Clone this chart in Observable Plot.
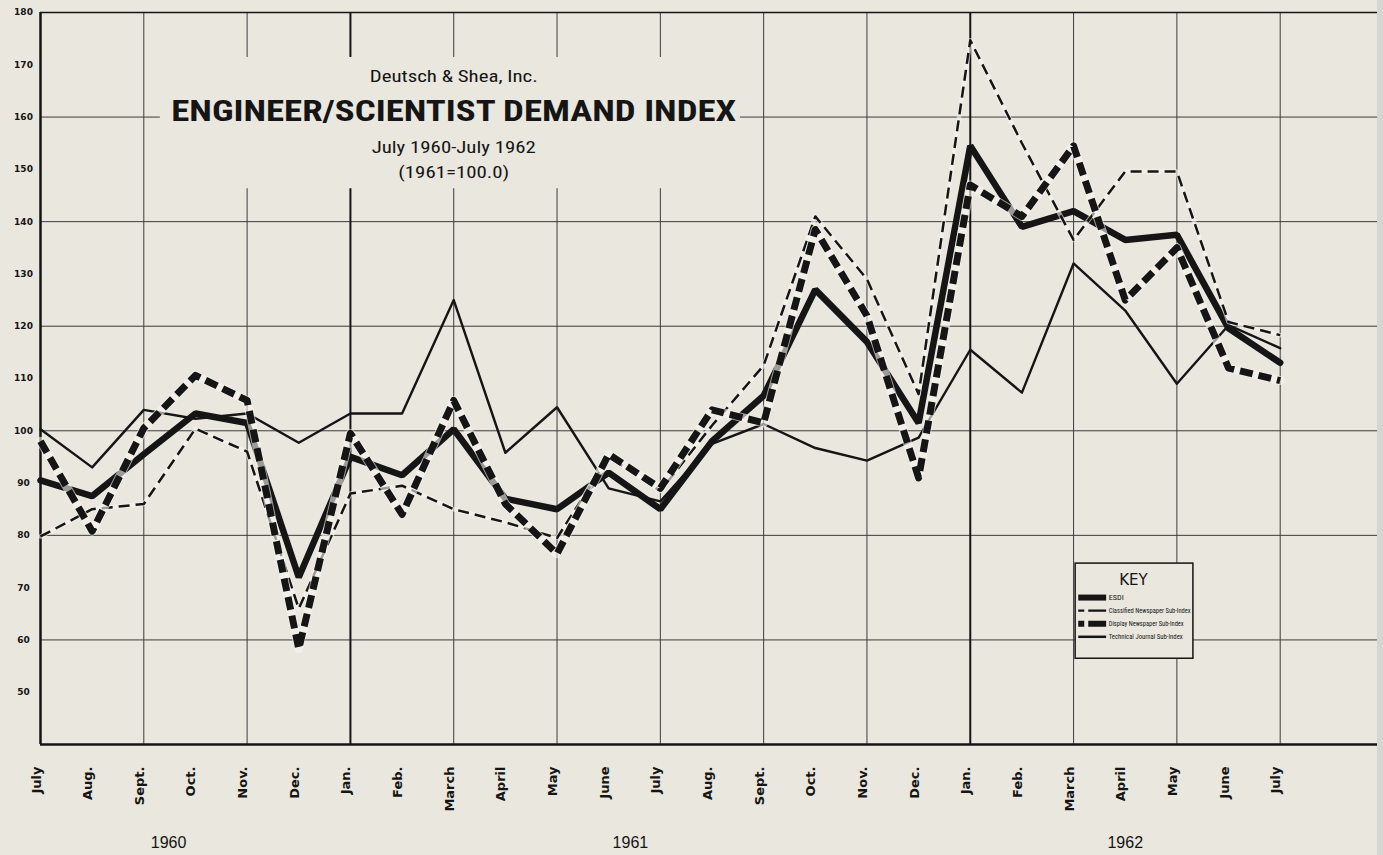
<!DOCTYPE html>
<html><head><meta charset="utf-8">
<script src="https://cdn.jsdelivr.net/npm/d3@7"></script>
<script src="https://cdn.jsdelivr.net/npm/@observablehq/plot@0.6"></script>
<style>
html,body{margin:0;padding:0;background:#e9e7de;}
#chart{position:relative;width:1383px;height:855px;overflow:hidden;}
#edge{position:absolute;right:0;top:0;width:6px;height:855px;background:#d5d5d1;}
</style></head><body><div id="chart"><div id="edge"></div></div>
<script>
// ---- data ----
const months = ["July","Aug.","Sept.","Oct.","Nov.","Dec.","Jan.","Feb.","March","April","May","June",
                "July","Aug.","Sept.","Oct.","Nov.","Dec.","Jan.","Feb.","March","April","May","June","July"];
const yearLabels = ["1960","1961","1962"];
const yTickLabels = [180,170,160,150,140,130,120,110,100,90,80,70,60,50];
const esdi       = [90.5,87.5,95.5,103.3,101.5,72,95,91.5,100.3,87,85,92,85,98,106.7,127,117,101.5,154.5,139,142,136.5,137.5,119.6,113];
const classified = [79.8,85,86,100.4,96,66,88,89.5,85,82.5,79.5,95,88.5,101,112.5,141,129,107,174.7,155,136.5,149.6,149.6,120.8,118.3];
const display    = [98,80.8,100.5,110.6,105.8,58.3,99.5,84,105.8,86,76.5,95.5,89,104,101.5,138.5,122,91,147,141,154.5,125,135,112,109.6];
const technical  = [100.3,93,104,102.3,103.3,97.7,103.3,103.3,125,95.8,104.5,89,86.5,97.5,101.3,96.7,94.3,98.7,115.5,107.3,132,123,109,120.2,115.8];
const keyLabels  = ["ESDI","Classified Newspaper Sub-Index","Display Newspaper Sub-Index","Technical Journal Sub-Index"];
const titleLines = ["Deutsch & Shea, Inc.","ENGINEER/SCIENTIST DEMAND INDEX","July 1960-July 1962","(1961=100.0)"];

// ---- styles ----
const BG = "#e9e7de", INK = "#151515", GRID = "#3c3c3c", HALO = "#f6f5ef";
const NARROW = "'Liberation Sans Narrow','Roboto Condensed','Liberation Sans',sans-serif";
const GEO = "'DejaVu Sans',sans-serif";
const idx = (d, i) => i;

const keyY = keyLabels.map((d, i) => 68.1 - i * 2.5);

const chart = Plot.plot({
  width: 1383, height: 855,
  marginLeft: 40, marginRight: 0, marginTop: 12, marginBottom: 111,
  x: {domain: [0, 26], axis: null},
  y: {domain: [40, 180], axis: null},
  style: {background: "transparent", overflow: "visible", fontFamily: "'Liberation Sans',sans-serif"},
  marks: [
    // grid
    Plot.ruleY([60, 80, 100, 120, 140, 160], {stroke: GRID, strokeWidth: 1}),
    Plot.ruleX([2, 4, 8, 10, 12, 14, 16, 20, 22, 24], {stroke: GRID, strokeWidth: 1}),
    Plot.ruleX([6, 18], {stroke: INK, strokeWidth: 2}),
    Plot.ruleX([0], {stroke: INK, strokeWidth: 2.5}),
    Plot.ruleY([40], {stroke: INK, strokeWidth: 2.5}),
    Plot.ruleY([180], {stroke: INK, strokeWidth: 1.5}),
    // title block blank-out
    Plot.rect([0], {x1: 2.32, x2: 13.55, y1: 146.3, y2: 171.4, fill: BG}),
    // series
    Plot.line(technical, {x: idx, y: d => d, stroke: INK, strokeWidth: 2.4}),
    Plot.line(esdi, {x: idx, y: d => d, stroke: INK, strokeWidth: 6.5, strokeLinejoin: "miter"}),
    Plot.line(classified, {x: idx, y: d => d, stroke: HALO, strokeWidth: 4.5, strokeOpacity: 0.6}),
    Plot.line(classified, {x: idx, y: d => d, stroke: INK, strokeWidth: 2.5, strokeDasharray: "11,6", strokeLinecap: "butt"}),
    Plot.line(display, {x: idx, y: d => d, stroke: HALO, strokeWidth: 9, strokeOpacity: 0.6}),
    Plot.line(display, {x: idx, y: d => d, stroke: INK, strokeWidth: 7, strokeDasharray: "13,6", strokeLinecap: "butt"}),
    // y labels
    Plot.text(yTickLabels, {x: 0, y: d => d, text: d => String(d), dx: -17, textAnchor: "middle",
      fontSize: 9, fontWeight: "bold", fontFamily: GEO, fill: INK}),
    // month labels
    Plot.text(months, {x: idx, text: d => d, frameAnchor: "bottom", dy: 22, rotate: -90,
      textAnchor: "end", fontSize: 13, fontWeight: "bold", fontFamily: GEO, fill: INK}),
    // year labels
    Plot.text(yearLabels, {x: (d, i) => [2.48, 11.42, 21.0][i], text: d => d, frameAnchor: "bottom",
      dy: 103, fontSize: 16, fontFamily: "'Liberation Sans',sans-serif", fill: INK}),
    // title
    Plot.text([titleLines[0]], {x: 8, y: 167.7, text: d => d, fontSize: 16, fontFamily: NARROW, fill: INK}),
    Plot.text([titleLines[1]], {x: 8, y: 161.0, text: d => d, fontSize: 30, fontWeight: "bold", fontFamily: NARROW, fill: INK}),
    Plot.text([titleLines[2]], {x: 8, y: 154.2, text: d => d, fontSize: 16, fontFamily: NARROW, fill: INK}),
    Plot.text([titleLines[3]], {x: 8, y: 149.3, text: d => d, fontSize: 16, fontFamily: NARROW, fill: INK}),
    // key
    Plot.rect([0], {x1: 20.04, x2: 22.32, y1: 56.4, y2: 74.6, fill: BG, stroke: INK, strokeWidth: 1.5}),
    Plot.text(["KEY"], {x: 21.16, y: 71.5, text: d => d, fontSize: 15, fontFamily: GEO, fill: INK}),
    Plot.ruleY([keyY[0]], {x1: 20.1, x2: 20.64, stroke: INK, strokeWidth: 6}),
    Plot.ruleY([keyY[1]], {x1: 20.1, x2: 20.64, stroke: INK, strokeWidth: 2.2, strokeDasharray: "6,4,18"}),
    Plot.ruleY([keyY[2]], {x1: 20.1, x2: 20.64, stroke: INK, strokeWidth: 6, strokeDasharray: "6,4,18"}),
    Plot.ruleY([keyY[3]], {x1: 20.1, x2: 20.64, stroke: INK, strokeWidth: 2.5}),
    Plot.text(keyLabels, {x: 20.68, y: (d, i) => keyY[i], text: d => d, textAnchor: "start",
      fontSize: 8, fontFamily: NARROW, fill: INK})
  ]
});

// fit condensed lettering to the widths seen in the original
const widths = new Map([
  [titleLines[0], 168], [titleLines[1], 565], [titleLines[2], 164], [titleLines[3], 111],
  [keyLabels[0], 15], [keyLabels[1], 82], [keyLabels[2], 75], [keyLabels[3], 74]
]);
d3.select(chart).selectAll("text").each(function() {
  const t = this.textContent;
  if (widths.has(t)) {
    d3.select(this).attr("textLength", widths.get(t)).attr("lengthAdjust", "spacingAndGlyphs");
  }
});
document.getElementById("chart").prepend(chart);
</script>
</body></html>
